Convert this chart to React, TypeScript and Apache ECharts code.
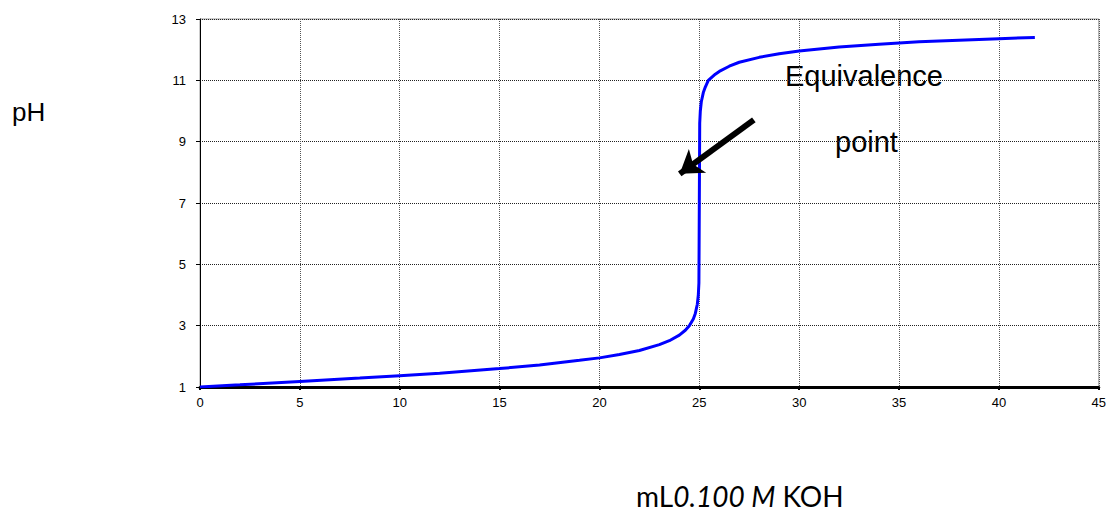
import React, { useEffect, useRef } from "react";
import * as echarts from "echarts";

const volumes = [0, 2, 5, 8, 10, 12, 15, 17, 19, 20, 21, 22, 23, 23.5, 24, 24.3, 24.5, 24.7, 24.8, 24.9, 24.95, 24.98, 25, 25.02, 25.05, 25.1, 25.2, 25.3, 25.45, 25.8, 26, 26.5, 27, 28, 29, 30, 32, 34, 36, 38, 40, 41.8];
const phValues = [1.0, 1.07, 1.18, 1.29, 1.37, 1.45, 1.6, 1.72, 1.87, 1.95, 2.06, 2.19, 2.38, 2.51, 2.69, 2.85, 3.0, 3.22, 3.4, 3.7, 4.0, 4.4, 7.0, 9.6, 10.0, 10.3, 10.6, 10.78, 11.0, 11.2, 11.29, 11.46, 11.59, 11.75, 11.87, 11.96, 12.09, 12.18, 12.26, 12.31, 12.36, 12.4];
const yTicks = [1, 3, 5, 7, 9, 11, 13];
const arrowFrom = [27.73, 9.71];
const arrowTo = [24.02, 7.95];
const annotation1 = "Equivalence";
const annotation2 = "point";
const yTitle = "pH";

export default function App() {
  const ref = useRef<HTMLDivElement>(null);
  useEffect(() => {
    const chart = echarts.init(ref.current!, null, { renderer: "svg" });
    const data = volumes.map((v, i) => [v, phValues[i]]);
    chart.setOption({
      animation: false,
      backgroundColor: "#ffffff",
      grid: {
        left: 200,
        top: 19,
        right: 10,
        bottom: 136,
        show: true,
        borderColor: "#999999",
        borderWidth: 1,
      },
      xAxis: {
        type: "value",
        min: 0,
        max: 45,
        interval: 5,
        axisLine: { show: true, onZero: false, lineStyle: { color: "#000", width: 3 } },
        axisTick: { show: true, length: 3, lineStyle: { color: "#000", width: 2 } },
        axisLabel: { color: "#000", fontSize: 13, fontFamily: "Liberation Sans, Arial", margin: 9 },
        splitLine: { show: true, lineStyle: { color: "#555", type: "dotted", width: 1 } },
      },
      yAxis: {
        type: "value",
        min: 1,
        max: 13,
        axisLine: { show: true, onZero: false, lineStyle: { color: "#000", width: 1 } },
        axisTick: { show: true, length: 4, customValues: yTicks, lineStyle: { color: "#000", width: 1 } },
        axisLabel: { color: "#000", fontSize: 13, fontFamily: "Liberation Sans, Arial", margin: 14, customValues: yTicks },
        splitLine: { show: true, lineStyle: { color: "#222", type: "dotted", width: 1 } },
      },
      series: [
        {
          type: "line",
          data,
          showSymbol: false,
          smooth: false,
          lineStyle: { color: "#0000ff", width: 3 },
          markLine: {
            silent: true,
            animation: false,
            label: { show: false },
            lineStyle: { color: "#000", width: 6, type: "solid" },
            symbolSize: [22, 22],
            data: [[{ coord: arrowFrom, symbol: "none" }, { coord: arrowTo, symbol: "arrow" }]],
          },
        },
      ],
      graphic: [
        { type: "text", left: 785, top: 61, style: { text: annotation1, font: "29px 'Liberation Sans', Arial", fill: "#000" } },
        { type: "text", left: 835, top: 127, style: { text: annotation2, font: "29px 'Liberation Sans', Arial", fill: "#000" } },
        { type: "text", left: 12, top: 99, style: { text: yTitle, font: "26px 'Liberation Sans', Arial", fill: "#000" } },
        {
          type: "text",
          left: 636,
          top: 482,
          style: {
            text: "{n|mL}{i|0.100 M}{n| KOH}",
            rich: {
              n: { font: "28px Lato, 'Open Sans'", fill: "#000" },
              i: { font: "italic 28px Lato, 'Open Sans'", fill: "#000" },
            },
          },
        },
      ],
    });
    return () => chart.dispose();
  }, []);
  return <div ref={ref} style={{ position: "fixed", left: 0, top: 0, width: 1109, height: 523 }} />;
}
